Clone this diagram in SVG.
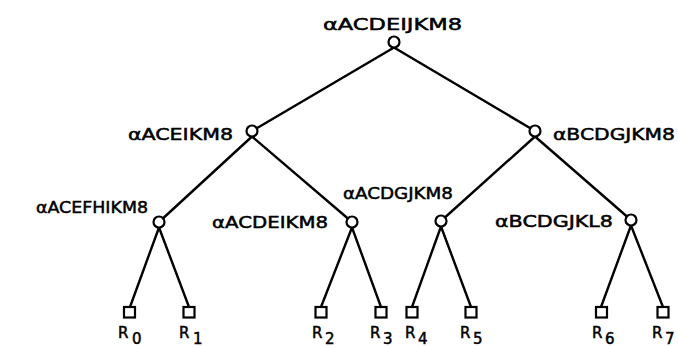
<svg xmlns="http://www.w3.org/2000/svg" width="678" height="347" viewBox="0 0 678 347">
<style>
.e{stroke:#000;stroke-width:2.4;fill:none;stroke-linecap:round}
.n{fill:#fff;stroke:#000;stroke-width:2.2}
.t{font-family:"DejaVu Sans",sans-serif;font-size:16px;fill:#000;stroke:#000;stroke-width:0.5}
.r{font-family:"DejaVu Sans",sans-serif;font-size:15px;fill:#000;stroke:#000;stroke-width:0.5}
</style>
<rect width="678" height="347" fill="#fff"/>
<g id="connectors">
<line class="e" x1="394" y1="47.5" x2="252" y2="131"/>
<line class="e" x1="394" y1="47.5" x2="535" y2="131"/>
<line class="e" x1="252" y1="136.5" x2="159" y2="222"/>
<line class="e" x1="252" y1="136.5" x2="352" y2="222"/>
<line class="e" x1="535" y1="136.5" x2="441" y2="221"/>
<line class="e" x1="535" y1="136.5" x2="631" y2="220"/>
<line class="e" x1="159" y1="227.5" x2="130" y2="307"/>
<line class="e" x1="159" y1="227.5" x2="189" y2="307"/>
<line class="e" x1="352" y1="227.5" x2="321" y2="307"/>
<line class="e" x1="352" y1="227.5" x2="381" y2="307"/>
<line class="e" x1="441" y1="226.5" x2="412" y2="307"/>
<line class="e" x1="441" y1="226.5" x2="471" y2="307"/>
<line class="e" x1="631" y1="225.5" x2="601" y2="307"/>
<line class="e" x1="631" y1="225.5" x2="663" y2="307"/>
</g>
<g id="n-root"><circle class="n" cx="394" cy="42" r="5.5"/><text class="t" x="323" y="30" textLength="139" lengthAdjust="spacingAndGlyphs">αACDEIJKM8</text></g>
<g id="n-l"><circle class="n" cx="252" cy="131" r="5.5"/><text class="t" x="128" y="140" textLength="105" lengthAdjust="spacingAndGlyphs">αACEIKM8</text></g>
<g id="n-r"><circle class="n" cx="535" cy="131" r="5.5"/><text class="t" x="553" y="140" textLength="122" lengthAdjust="spacingAndGlyphs">αBCDGJKM8</text></g>
<g id="n-ll"><circle class="n" cx="159" cy="222" r="5.5"/><text class="t" x="36" y="213" textLength="112" lengthAdjust="spacingAndGlyphs">αACEFHIKM8</text></g>
<g id="n-lr"><circle class="n" cx="352" cy="222" r="5.5"/><text class="t" x="212" y="228" textLength="116" lengthAdjust="spacingAndGlyphs">αACDEIKM8</text></g>
<g id="n-rl"><circle class="n" cx="441" cy="221" r="5.5"/><text class="t" x="343" y="199" textLength="110" lengthAdjust="spacingAndGlyphs">αACDGJKM8</text></g>
<g id="n-rr"><circle class="n" cx="631" cy="220" r="5.5"/><text class="t" x="495" y="227" textLength="118" lengthAdjust="spacingAndGlyphs">αBCDGJKL8</text></g>
<g id="leaf-r0"><rect class="n" x="124" y="307" width="11" height="10.5"/><text class="r" x="118" y="338">R</text><text class="r" x="132" y="344">0</text></g>
<g id="leaf-r1"><rect class="n" x="183.5" y="307" width="11" height="10.5"/><text class="r" x="179" y="338">R</text><text class="r" x="193" y="344">1</text></g>
<g id="leaf-r2"><rect class="n" x="315.5" y="307" width="11" height="10.5"/><text class="r" x="312" y="338">R</text><text class="r" x="325" y="344">2</text></g>
<g id="leaf-r3"><rect class="n" x="375.5" y="307" width="11" height="10.5"/><text class="r" x="370" y="338">R</text><text class="r" x="383" y="344">3</text></g>
<g id="leaf-r4"><rect class="n" x="406.5" y="307" width="11" height="10.5"/><text class="r" x="405" y="338">R</text><text class="r" x="418" y="344">4</text></g>
<g id="leaf-r5"><rect class="n" x="465.5" y="307" width="11" height="10.5"/><text class="r" x="460" y="338">R</text><text class="r" x="473" y="344">5</text></g>
<g id="leaf-r6"><rect class="n" x="596" y="307" width="11" height="10.5"/><text class="r" x="592" y="338">R</text><text class="r" x="605" y="344">6</text></g>
<g id="leaf-r7"><rect class="n" x="657.5" y="307" width="11" height="10.5"/><text class="r" x="652" y="338">R</text><text class="r" x="665" y="344">7</text></g>
</svg>
